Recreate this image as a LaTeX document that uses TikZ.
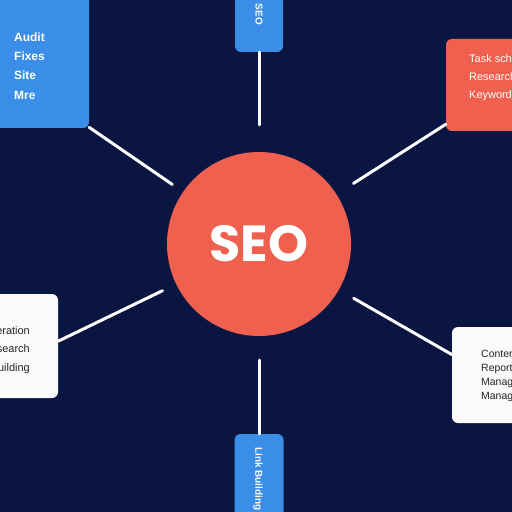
\documentclass[tikz,border=0pt]{standalone}
\usepackage{fontspec}
\setmainfont{Liberation Sans}
\newfontfamily\seofont{Poppins}
\usetikzlibrary{positioning}
\definecolor{navy}{HTML}{0B1542}
\definecolor{boxblue}{HTML}{3A8EE8}
\definecolor{coral}{HTML}{F0604F}
\definecolor{paper}{HTML}{FAFAFA}
\definecolor{ink}{HTML}{262626}

\begin{document}
\begin{tikzpicture}[x=1bp,y=-1bp, every node/.style={font=\small}]
  \tikzstyle{bx}=[rounded corners=6bp,inner sep=0pt]
  \tikzstyle{lnk}=[draw=white,line width=3bp,line cap=round]
  \tikzstyle{txt}=[inner sep=0pt]
  \useasboundingbox (0,0) rectangle (512,512);
  \fill[navy] (0,0) rectangle (512,512);
  \clip (0,0) rectangle (512,512);
  % hub
  \node[circle,fill=coral,minimum size=184bp,inner sep=0pt,text=white,font=\seofont\bfseries\fontsize{51}{51}\selectfont] (seo) at (259,244) {SEO};
  % boxes round the hub
  \node[bx,fill=boxblue,minimum width=120bp,minimum height=150bp] (audit) at (29,53) {};
  \node[bx,fill=boxblue,minimum width=48bp,minimum height=64bp] (onpage) at (259,20) {};
  \node[bx,fill=coral,minimum width=116bp,minimum height=92bp] (tasks) at (504,85) {};
  \node[bx,fill=paper,minimum width=110bp,minimum height=104bp] (build) at (3,346) {};
  \node[bx,fill=paper,minimum width=112bp,minimum height=96bp] (content) at (508,375) {};
  \node[bx,fill=boxblue,minimum width=49bp,minimum height=90bp] (links) at (259,479) {};
  % texts
  \node[txt,anchor=west,align=left,text=white,font=\fontsize{12}{19.3}\selectfont\bfseries] (audit-txt) at (14,66) {Audit\\Fixes\\Site\\Mre};
  \node[txt,anchor=east,rotate=-90,text=white,font=\fontsize{10}{10}\selectfont\bfseries] (onpage-txt) at (258,25) {On-Page SEO};
  \node[txt,anchor=west,align=left,text=white,font=\fontsize{11}{18}\selectfont] (tasks-txt) at (469,78) {Task schedule\\Research\\Keyword analysis};
  \node[txt,anchor=east,align=right,text=ink,font=\fontsize{11}{18.5}\selectfont] (build-txt) at (30,350) {Generation\\Research\\Link Building};
  \node[txt,anchor=west,align=left,text=ink,font=\fontsize{10.5}{14}\selectfont] (content-txt) at (481,376) {Content\\Reports\\Manage\\Manage};
  \node[txt,anchor=west,rotate=-90,text=white,font=\fontsize{10}{10}\selectfont\bfseries] (links-txt) at (258,447) {Link Building};
  % connectors
  \draw[lnk,shorten >=13bp] (audit.-51) -- (seo);
  \draw[lnk,shorten >=27bp] (onpage) -- (seo);
  \draw[lnk,shorten >=20bp] (tasks.214) -- (seo);
  \draw[lnk,shorten >=15bp] (build.5) -- (seo);
  \draw[lnk,shorten >=17bp] (content.160) -- (seo);
  \draw[lnk,shorten >=24bp] (links) -- (seo);
\end{tikzpicture}
\end{document}
